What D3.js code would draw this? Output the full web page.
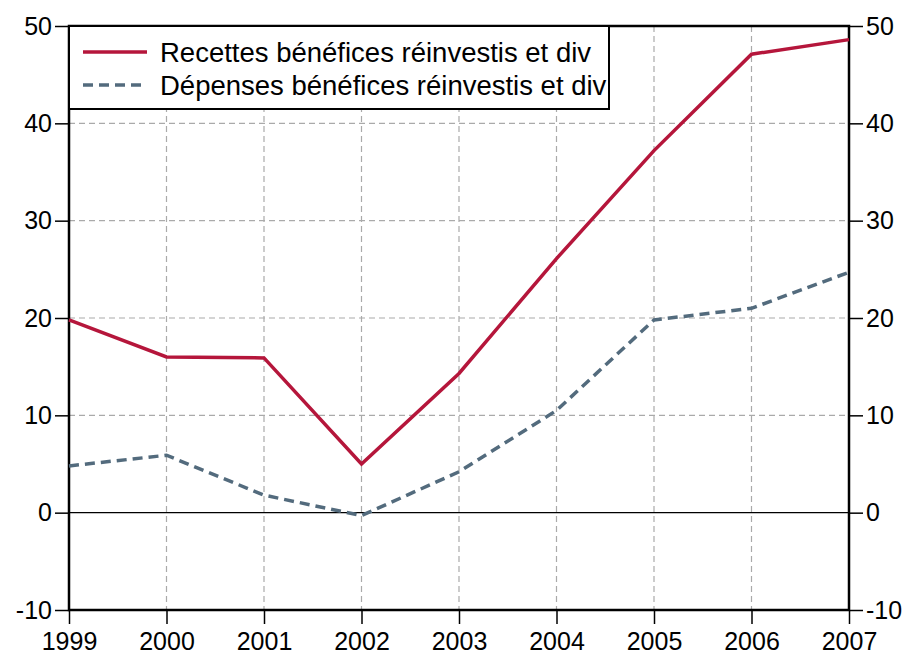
<!DOCTYPE html>
<html>
<head>
<meta charset="utf-8">
<script src="https://cdn.jsdelivr.net/npm/d3@7"></script>
<style>
  body { margin: 0; background: #fff; }
  svg text { font-family: "Liberation Sans", Arial, sans-serif; }
</style>
</head>
<body>
<div id="chart"></div>
<script>
// data
const years = [1999, 2000, 2001, 2002, 2003, 2004, 2005, 2006, 2007];
const recettes = [19.8, 16.0, 15.9, 5.0, 14.3, 26.1, 37.2, 47.1, 48.6];
const depenses = [4.8, 5.9, 1.8, -0.3, 4.2, 10.5, 19.8, 21.0, 24.7];
const yTicks = [-10, 0, 10, 20, 30, 40, 50];
const seriesNames = ["Recettes bénéfices réinvestis et div", "Dépenses bénéfices réinvestis et div"];

let W = 908, H = 656;
let margin = { top: 26, left: 69, right: 59, bottom: 46 },
  width = W - margin.left - margin.right,
  height = H - margin.top - margin.bottom;
let fontSize = 25;

let svg = d3.select("#chart").append("svg")
  .attr("width", W).attr("height", H)
  .style("background-color", "#FFFFFF");

let g = svg.append("g").attr("transform", "translate(" + margin.left + "," + margin.top + ")");

let xScale = d3.scaleLinear().domain([1999, 2007]).range([0, width]);
let yScale = d3.scaleLinear().domain([-10, 50]).range([height, 0]);

// gridlines
g.append("g").selectAll("line").data(years.slice(1, -1)).enter().append("line")
  .attr("x1", d => xScale(d)).attr("x2", d => xScale(d))
  .attr("y1", 0).attr("y2", height)
  .attr("stroke", "#aaaaaa").attr("stroke-width", 1.2).attr("stroke-dasharray", "6,4");
g.append("g").selectAll("line").data(yTicks.filter(d => d !== 0 && d !== 50)).enter().append("line")
  .attr("x1", 0).attr("x2", width)
  .attr("y1", d => yScale(d)).attr("y2", d => yScale(d))
  .attr("stroke", "#aaaaaa").attr("stroke-width", 1.2).attr("stroke-dasharray", "6,4");

// zero line
g.append("line")
  .attr("x1", 0).attr("x2", width)
  .attr("y1", yScale(0)).attr("y2", yScale(0))
  .attr("stroke", "#000").attr("stroke-width", 1.3);

// axes (plain hyphen for negatives like the original)
let fmt = d => String(d);
let leftAxis = g.append("g")
  .call(d3.axisLeft(yScale).tickValues(yTicks).tickFormat(fmt).tickSize(14).tickPadding(3));
let rightAxis = g.append("g").attr("transform", "translate(" + width + ",0)")
  .call(d3.axisRight(yScale).tickValues(yTicks).tickFormat(fmt).tickSize(14).tickPadding(3));
let bottomAxis = g.append("g").attr("transform", "translate(0," + height + ")")
  .call(d3.axisBottom(xScale).tickValues(years).tickFormat(fmt).tickSize(14).tickPadding(8));

[leftAxis, rightAxis, bottomAxis].forEach(a => {
  a.select(".domain").remove();
  a.selectAll("line").attr("stroke", "#000").attr("stroke-width", 1.5);
  a.selectAll("text").attr("font-size", fontSize).attr("fill", "#000");
});

// frame
g.append("rect")
  .attr("x", 0).attr("y", 0).attr("width", width).attr("height", height)
  .attr("fill", "none").attr("stroke", "#000").attr("stroke-width", 2.5);

// lines
let line = d3.line().x((d, i) => xScale(years[i])).y(d => yScale(d));

g.append("path").datum(depenses)
  .attr("d", line).attr("fill", "none")
  .attr("stroke", "#536b7d").attr("stroke-width", 3.5)
  .attr("stroke-dasharray", "10,6");

g.append("path").datum(recettes)
  .attr("d", line).attr("fill", "none")
  .attr("stroke", "#b5163b").attr("stroke-width", 3.5);

// legend
let legend = g.append("g");
legend.append("rect")
  .attr("x", 0).attr("y", 0).attr("width", 540).attr("height", 83)
  .attr("fill", "#fff").attr("stroke", "#000").attr("stroke-width", 2);
let styles = [{ c: "#b5163b", dash: null }, { c: "#536b7d", dash: "10,6" }];
seriesNames.forEach((name, i) => {
  let y = 26 + i * 33;
  legend.append("line")
    .attr("x1", 14).attr("x2", 78).attr("y1", y).attr("y2", y)
    .attr("stroke", styles[i].c).attr("stroke-width", 3.5)
    .attr("stroke-dasharray", styles[i].dash);
  legend.append("text")
    .attr("x", 91).attr("y", y + 10)
    .attr("font-size", 27.5).attr("fill", "#000")
    .text(name);
});
</script>
</body>
</html>
